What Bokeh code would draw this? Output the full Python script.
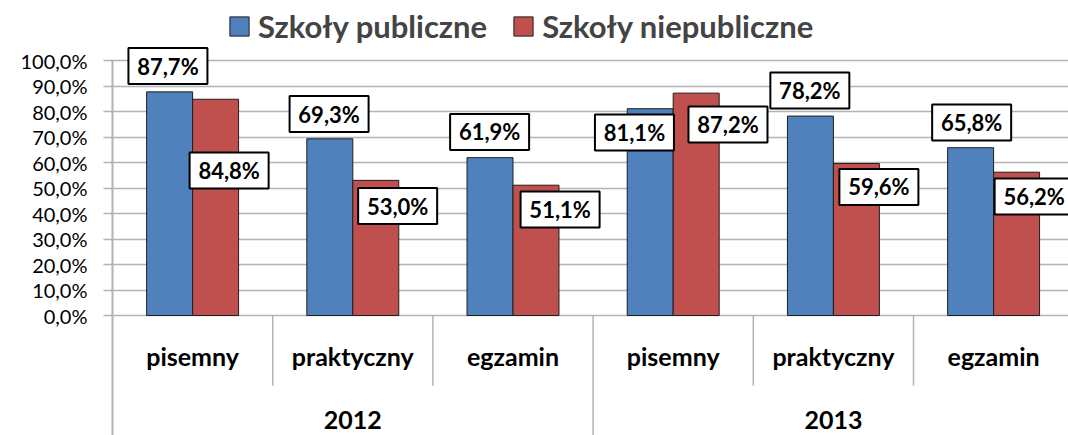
from bokeh.plotting import figure
from bokeh.models import (Range1d, FixedTicker, Legend, LegendItem)
from bokeh.core.properties import value
from bokeh.embed import file_html
from bokeh.resources import INLINE

# ---- data ----
years = ["2012", "2013"]
exams = ["pisemny", "praktyczny", "egzamin"]
categories = [e for y in years for e in exams]
public = [87.7, 69.3, 61.9, 81.1, 78.2, 65.8]
nonpublic = [84.8, 53.0, 51.1, 87.2, 59.6, 56.2]
series_names = ["Szkoły publiczne", "Szkoły niepubliczne"]
y_ticks = [0, 10, 20, 30, 40, 50, 60, 70, 80, 90, 100]
y_tick_labels = ["0,0%", "10,0%", "20,0%", "30,0%", "40,0%", "50,0%",
                 "60,0%", "70,0%", "80,0%", "90,0%", "100,0%"]

# label placement (layout, in category units / axis units)
pub_lab_dx = [-0.154, -0.148, -0.146, -0.242, -0.147, -0.137]
pub_lab_y = [97.8, 79.0, 72.0, 71.8, 88.2, 75.7]
non_lab_dx = [0.228, 0.280, 0.294, 0.342, 0.284, 0.253]
non_lab_y = [56.9, 42.9, 41.6, 74.9, 50.4, 46.7]

BLUE = "#4F81BD"
RED = "#C0504D"
GRID = "#b3b3b3"
FONT = "Lato"

n = len(categories)
centers = [i + 0.5 for i in range(n)]
bw = 0.287
PX = 160.2          # pixels per category
YPX = 2.55          # pixels per percent
x0 = -2 / PX
y_top = 315 / YPX
y_bot = -120 / YPX

p = figure(width=1068, height=435, output_backend="svg", toolbar_location=None,
           x_range=Range1d(x0, x0 + 958 / PX), y_range=Range1d(y_bot, y_top),
           min_border_left=110, min_border_right=0, min_border_top=0,
           min_border_bottom=0)
p.outline_line_color = None

# axes
p.xaxis.visible = False
p.xgrid.visible = False
p.yaxis.ticker = FixedTicker(ticks=y_ticks)
p.yaxis.major_label_overrides = {float(t): l for t, l in zip(y_ticks, y_tick_labels)}
p.yaxis.major_label_text_font = FONT
p.yaxis.major_label_text_font_size = "20px"
p.yaxis.major_label_text_color = "black"
p.yaxis.major_tick_out = 7
p.yaxis.major_tick_in = 2
p.yaxis.minor_tick_out = 0
p.yaxis.minor_tick_in = 0
p.yaxis.major_label_standoff = 16
p.yaxis.axis_line_color = None
p.yaxis.major_tick_line_color = GRID
p.yaxis.major_tick_line_width = 1.5
p.ygrid.ticker = FixedTicker(ticks=y_ticks)
p.ygrid.grid_line_color = GRID
p.ygrid.grid_line_width = 1.5

# value axis line (from 100% down through the category area)
p.segment(x0=[0], y0=[y_ticks[-1]], x1=[0], y1=[y_bot], line_color=GRID, line_width=2)

# separators in the category area
short_x = [1, 2, 4, 5]
p.segment(x0=short_x, y0=[0] * 4, x1=short_x, y1=[-27.5] * 4,
          line_color=GRID, line_width=1.5)
p.segment(x0=[3], y0=[0], x1=[3], y1=[y_bot], line_color=GRID, line_width=1.5)

# bars
r_pub = p.vbar(x=[c - bw / 2 for c in centers], top=public, width=bw, bottom=0,
               fill_color=BLUE, line_color="#1e1e1e", line_width=1)
r_non = p.vbar(x=[c + bw / 2 for c in centers], top=nonpublic, width=bw, bottom=0,
               fill_color=RED, line_color="#1e1e1e", line_width=1)

# data labels
def fmt(v):
    return f"{v:.1f}".replace(".", ",") + "%"

lab_x = [c + d for c, d in zip(centers, pub_lab_dx)] + [c + d for c, d in zip(centers, non_lab_dx)]
lab_y = pub_lab_y + non_lab_y
lab_t = [fmt(v) for v in public] + [fmt(v) for v in nonpublic]
p.rect(x=lab_x, y=lab_y, width=79, height=36, width_units="screen",
       height_units="screen", fill_color="white", line_color="black", line_width=2)
p.text(x=lab_x, y=lab_y, text=lab_t, text_font=value(FONT), text_font_style="bold",
       text_font_size="22px", text_align="center", text_baseline="middle",
       text_color="black")

# category labels
p.text(x=centers, y=[-15.8] * n, text=categories, text_font=value(FONT),
       text_font_style="bold", text_font_size="25px", text_align="center",
       text_baseline="alphabetic", text_color="black")
p.text(x=[1.5, 4.5], y=[-41.0, -41.0], text=years, text_font=value(FONT),
       text_font_style="bold", text_font_size="25px", text_align="center",
       text_baseline="alphabetic", text_color="black")

legend = Legend(items=[LegendItem(label=series_names[0], renderers=[r_pub]),
                       LegendItem(label=series_names[1], renderers=[r_non])],
                orientation="horizontal", location=(117, 390), margin=0, padding=0,
                spacing=24, glyph_width=24, glyph_height=24, label_standoff=7,
                label_text_font=FONT, label_text_font_style="bold",
                label_text_font_size="31px", border_line_color=None,
                background_fill_alpha=0)
p.add_layout(legend, "center")

open("out.html", "w").write(file_html(p, INLINE))
